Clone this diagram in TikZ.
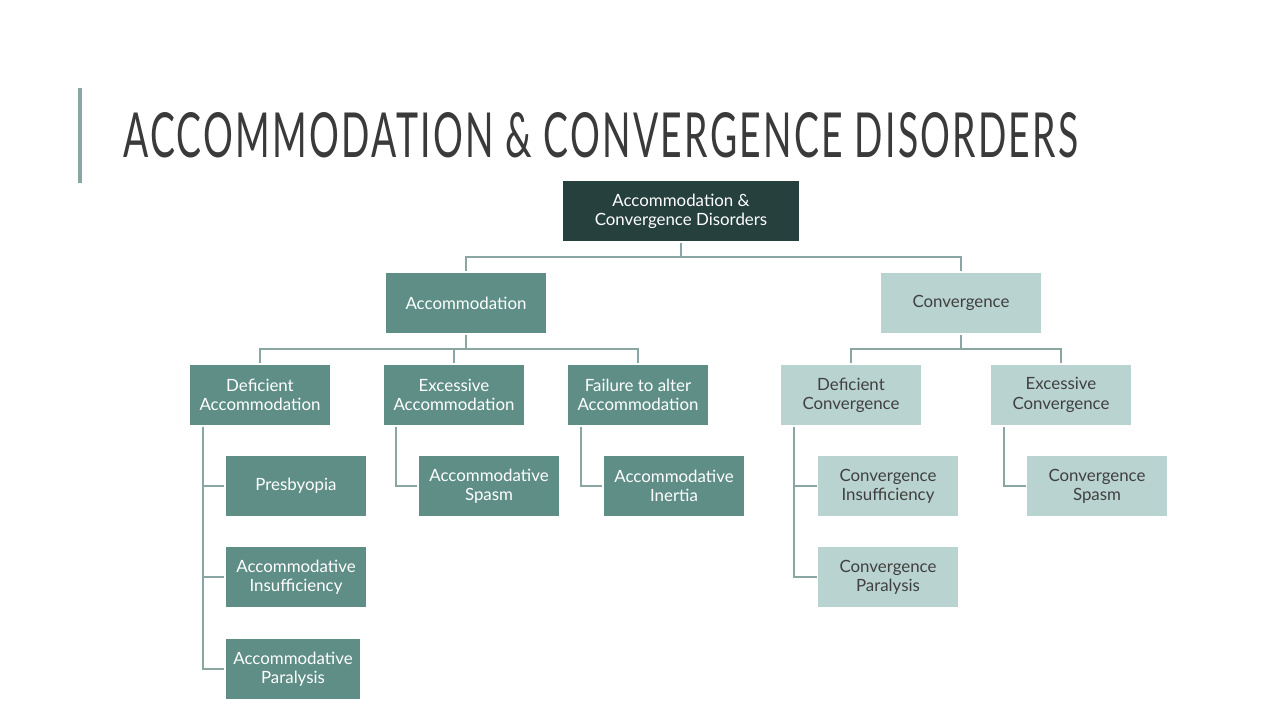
\documentclass[tikz,border=0pt]{standalone}
\usepackage{fontspec}
\usepackage{graphicx}
\setmainfont{Lato}
\newfontfamily\titlefont[LetterSpace=6]{Lato}
\definecolor{rootc}{HTML}{26403E}
\definecolor{accc}{HTML}{5E8E86}
\definecolor{convc}{HTML}{B9D3D0}
\definecolor{linec}{HTML}{8AA6A2}
\definecolor{titlec}{HTML}{3A3A3A}
\begin{document}
\begin{tikzpicture}[x=0.02cm,y=-0.02cm,
  box/.style={draw=white,line width=0.6pt,minimum width=2.84cm,minimum height=1.24cm,align=center,inner sep=1pt,font=\fontsize{9.6}{11}\selectfont},
  acc/.style={box,fill=accc,text=white},
  conv/.style={box,fill=convc,text=black!75},
  link/.style={draw=linec,line width=1.3pt}]
\useasboundingbox (0,0) rectangle (1280,720);
\fill[white] (0,0) rectangle (1280,720);
\draw[line width=2pt,color=linec] (80,88) -- (80,183);
\node[anchor=west,text=titlec,inner sep=0pt] (title) at (123,135) {\resizebox{19.1cm}{0.9cm}{\titlefont\fontsize{30}{36}\selectfont ACCOMMODATION \& CONVERGENCE DISORDERS}};
\node[box,fill=rootc,text=white,minimum width=4.76cm] (root) at (681,211) {Accommodation \&\\Convergence Disorders};
\node[acc,minimum width=3.24cm] (A) at (466,303) {Accommodation};
\node[conv,minimum width=3.24cm] (C) at (961,303) {Convergence};
\node[acc] (DA) at (260,395) {Deficient\\Accommodation};
\node[acc] (EA) at (454,395) {Excessive\\Accommodation};
\node[acc] (FA) at (638,395) {Failure to alter\\Accommodation};
\node[conv] (DC) at (851,395) {Deficient\\Convergence};
\node[conv] (EC) at (1061,395) {Excessive\\Convergence};
\node[acc] (P) at (296,486) {Presbyopia};
\node[acc] (AI) at (296,577) {Accommodative\\Insufficiency};
\node[acc,minimum width=2.72cm] (AP) at (293,669) {Accommodative\\Paralysis};
\node[acc] (AS) at (489,486) {Accommodative\\Spasm};
\node[acc] (AN) at (674,486) {Accommodative\\Inertia};
\node[conv] (CI) at (888,486) {Convergence\\Insufficiency};
\node[conv] (CP) at (888,577) {Convergence\\Paralysis};
\node[conv] (CS) at (1097,486) {Convergence\\Spasm};
\coordinate (r1) at (681,257);
\coordinate (a1) at (466,349);
\coordinate (c1) at (961,349);
\draw[link] (root.south) -- (r1) -| (A.north);
\draw[link] (r1) -| (C.north);
\draw[link] (A.south) -- (a1) -| (DA.north);
\draw[link] (a1) -| (EA.north);
\draw[link] (a1) -| (FA.north);
\draw[link] (C.south) -- (c1) -| (DC.north);
\draw[link] (c1) -| (EC.north);
\draw[link] (DA.south -| 203,0) |- (P.west);
\draw[link] (DA.south -| 203,0) |- (AI.west);
\draw[link] (DA.south -| 203,0) |- (AP.west);
\draw[link] (EA.south -| 396,0) |- (AS.west);
\draw[link] (FA.south -| 581,0) |- (AN.west);
\draw[link] (DC.south -| 794,0) |- (CI.west);
\draw[link] (DC.south -| 794,0) |- (CP.west);
\draw[link] (EC.south -| 1004,0) |- (CS.west);
\end{tikzpicture}
\end{document}
